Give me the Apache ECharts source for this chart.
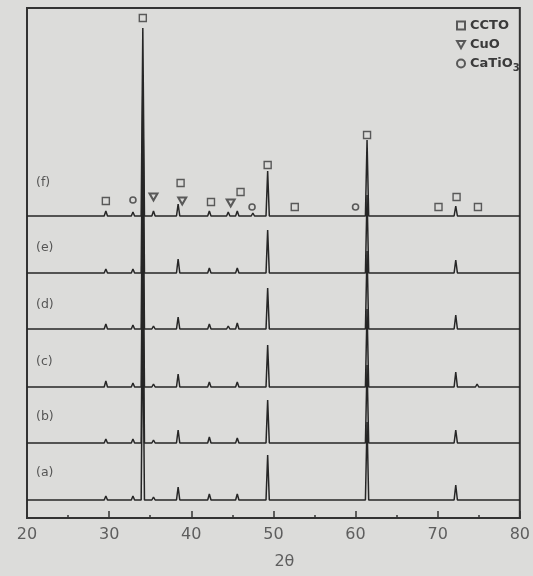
<!DOCTYPE html>
<html>
<head>
<meta charset="utf-8">
<script src="https://cdn.jsdelivr.net/npm/echarts@6/dist/echarts.min.js"></script>
<style>
  html, body { margin: 0; padding: 0; background: #dcdcda; }
  #chart { width: 533px; height: 576px; }
</style>
</head>
<body>
<div id="chart"></div>
<script>
// ---- data ----
const twoTheta = [29.6, 32.9, 34.1, 35.4, 38.4, 42.2, 44.5, 45.6, 47.5, 49.3, 52.6, 61.4, 72.2, 74.8];
const sampleNames = ['(a)', '(b)', '(c)', '(d)', '(e)', '(f)'];
const offsets = [18, 75, 131, 189, 245, 302];
const intA = [4, 4, 188, 3, 13, 6, 2, 6, 2, 45, 2, 78, 15, 2];
const intB = [4, 4, 188, 3, 13, 6, 2, 5, 2, 43, 2, 78, 13, 2];
const intC = [6, 4, 188, 3, 13, 5, 2, 5, 2, 42, 2, 78, 15, 3];
const intD = [5, 4, 188, 3, 12, 5, 3, 6, 2, 41, 2, 78, 14, 2];
const intE = [4, 4, 188, 2, 14, 5, 2, 5, 2, 43, 2, 78, 13, 2];
const intF = [5, 4, 188, 5, 12, 5, 4, 5, 3, 45, 2, 76, 10, 2];
const intensities = [intA, intB, intC, intD, intE, intF];
// phase markers above pattern (f): [2theta, height above baseline]
const cctoMarks = [[29.6, 15], [34.1, 198], [38.7, 33], [42.4, 14], [46.0, 24], [49.3, 51], [52.6, 9], [61.4, 81], [70.1, 9], [72.3, 19], [74.9, 9]];
const cuoMarks = [[35.4, 19], [38.9, 15], [44.8, 13]];
const catio3Marks = [[32.9, 16], [47.4, 9], [60.0, 9]];
const phaseNames = ['CCTO', 'CuO', 'CaTiO3'];
const xTickLabels = [20, 30, 40, 50, 60, 70, 80];

// ---- layout / style ----
const halfWidth = 0.2;
const labelLift = [27, 26, 25, 24, 25, 33];
const labelX = 21.1;
const inkLine = '#262626';
const inkMark = '#383838';
const fontFam = 'DejaVu Sans';

function pattern(ints, off) {
  const d = [[20, off]];
  twoTheta.forEach((p, i) => {
    d.push([p - halfWidth, off]);
    d.push([p, off + ints[i]]);
    d.push([p + halfWidth, off]);
  });
  d.push([80, off]);
  return d;
}

const fOff = offsets[5];
const series = [];
intensities.forEach((ints, k) => {
  series.push({
    type: 'line', name: sampleNames[k], data: pattern(ints, offsets[k]),
    symbol: 'none', silent: true, z: 2,
    lineStyle: { color: inkLine, width: 1.5 }
  });
});
series.push({
  type: 'scatter', name: 'labels', symbolSize: 0, silent: true,
  data: sampleNames.map((n, k) => [labelX, offsets[k] + labelLift[k], n]),
  label: { show: true, position: 'right', distance: 0, formatter: p => p.value[2],
           color: '#333', fontSize: 12.5, fontFamily: fontFam }
});
const triPath = 'path://M0,0 L10,0 L5,9 Z';
series.push({
  type: 'scatter', name: 'CCTO', symbol: 'rect', symbolSize: 7, silent: true, z: 5,
  data: cctoMarks.map(m => [m[0], fOff + m[1]]),
  itemStyle: { color: 'rgba(0,0,0,0)', borderColor: inkMark, borderWidth: 1.4 }
});
series.push({
  type: 'scatter', name: 'CuO', symbol: triPath, symbolSize: [8, 7], silent: true, z: 5,
  data: cuoMarks.map(m => [m[0], fOff + m[1]]),
  itemStyle: { color: 'rgba(0,0,0,0)', borderColor: inkMark, borderWidth: 2 }
});
series.push({
  type: 'scatter', name: 'CaTiO3', symbol: 'circle', symbolSize: 6, silent: true, z: 5,
  data: catio3Marks.map(m => [m[0], fOff + m[1]]),
  itemStyle: { color: 'rgba(0,0,0,0)', borderColor: inkMark, borderWidth: 1.6 }
});

const chart = echarts.init(document.getElementById('chart'), null, { renderer: 'canvas' });
chart.setOption({
  animation: false,
  backgroundColor: '#dcdcda',
  grid: { left: 27, right: 12, top: 8, bottom: 58, show: true, borderColor: '#333', borderWidth: 2, backgroundColor: 'transparent' },
  legend: {
    data: phaseNames, orient: 'vertical', left: 451, top: 14, itemGap: 6,
    itemWidth: 8, itemHeight: 8, selectedMode: false,
    textStyle: { color: '#3a3a3a', fontSize: 13, fontWeight: 'bold', fontFamily: fontFam,
      rich: { sub: { fontSize: 10, fontWeight: 'bold', color: '#3a3a3a', fontFamily: fontFam, padding: [10, 0, 0, 0] } } },
    formatter: n => n === 'CaTiO3' ? 'CaTiO{sub|3}' : n
  },
  xAxis: {
    type: 'value', min: 20, max: 80, interval: 10,
    axisLine: { show: true, lineStyle: { color: '#333', width: 2 } },
    axisTick: { show: true, inside: true, length: 7, lineStyle: { color: '#333', width: 1.5 } },
    minorTick: { show: true, splitNumber: 2, length: 3, lineStyle: { color: '#333', width: 1.5 } },
    splitLine: { show: false },
    axisLabel: { color: '#5e5e5e', fontSize: 16, fontFamily: fontFam, margin: 9,
      formatter: v => xTickLabels.includes(v) ? String(v) : '' },
    name: '2θ', nameLocation: 'middle', nameGap: 36,
    nameTextStyle: { color: '#5e5e5e', fontSize: 16, fontFamily: fontFam, padding: [0, 0, 0, 22] }
  },
  yAxis: { type: 'value', min: 0, max: 510, show: false, splitLine: { show: false } },
  series: series
});
</script>
</body>
</html>
